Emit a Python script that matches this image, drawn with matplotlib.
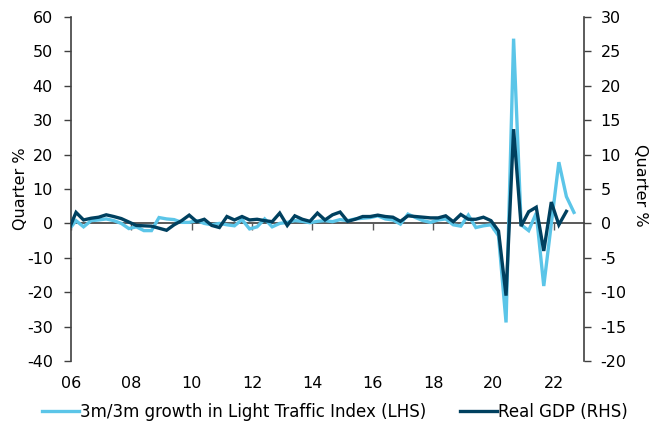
import matplotlib
matplotlib.use("Agg")
import matplotlib.pyplot as plt
import numpy as np

# Quarterly data, 2005Q4 .. 2022Q3 (2005Q4 partially clipped by axis)
start_year, start_q = 2005, 4
traffic = [-2.0, 0.8, -1.0, 0.8, 1.0, 1.3, 0.8, 0.0, -1.5, -1.0, -2.1, -2.1, 1.7, 1.3, 1.1,
           0.3, 0.3, 0.8, 0.0, -0.4, 0.0, -0.4, -0.7, 1.1, -1.6, -1.0, 1.3, -1.0, 0.0, 0.3,
           0.8, 0.6, 0.2, 0.6, 0.8, 0.5, 1.1, 0.8, 1.3, 1.5, 1.7, 2.2, 1.3, 1.0, -0.2, 2.7,
           1.7, 0.8, 0.3, 1.0, 1.3, -0.4, -0.8, 2.4, -1.2, -0.7, -0.4, -3.6, -28.8, 53.7,
           -0.4, -2.1, 3.0, -18.2, -0.1, 17.8, 7.8, 3.2]
gdp = [-1.0, 1.6, 0.5, 0.75, 0.9, 1.25, 1.0, 0.7, 0.2, -0.3, -0.35, -0.4, -0.7, -1.0, -0.2,
       0.4, 1.2, 0.25, 0.6, -0.3, -0.6, 1.0, 0.5, 1.0, 0.5, 0.6, 0.4, 0.25, 1.5, -0.3, 1.1,
       0.6, 0.3, 1.5, 0.5, 1.25, 1.65, 0.3, 0.6, 1.0, 1.0, 1.2, 1.0, 0.9, 0.3, 1.1, 1.0,
       0.9, 0.8, 0.8, 1.1, 0.25, 1.3, 0.6, 0.6, 0.9, 0.4, -1.1, -10.5, 13.7, -0.4, 1.7,
       2.35, -4.0, 3.1, -0.2, 1.75]

def qdates(n):
    out = []
    y, q = start_year, start_q
    for _ in range(n):
        out.append(y + (3 * q - 1) / 12.0)
        q += 1
        if q > 4:
            q = 1
            y += 1
    return np.array(out)

x_tr = qdates(len(traffic))
x_gdp = qdates(len(gdp))

xtick_years = [2006, 2008, 2010, 2012, 2014, 2016, 2018, 2020, 2022]
xtick_labels = ["06", "08", "10", "12", "14", "16", "18", "20", "22"]
left_ticks = list(range(-40, 61, 10))
right_ticks = list(range(-20, 31, 5))

light = "#5BC5E8"
dark = "#00405F"
spine_c = "#404040"

plt.rcParams['font.family'] = ['DejaVu Sans']
plt.rcParams['axes.unicode_minus'] = False
fig = plt.figure(figsize=(6.64, 4.28), dpi=100)
W, H = 664, 428
ax = fig.add_axes([71 / W, 1 - 361 / H, (584 - 71) / W, (361 - 17) / H])
ax2 = ax.twinx()

l1, = ax.plot(x_tr, traffic, color=light, lw=2.4, solid_joinstyle='miter', zorder=2)
l2, = ax2.plot(x_gdp, gdp, color=dark, lw=2.4, solid_joinstyle='miter', zorder=3)

ax.set_xlim(2006, 2023)
ax.set_ylim(-40, 60)
ax2.set_ylim(-20, 30)
ax.set_yticks(left_ticks)
ax2.set_yticks(right_ticks)

fs = 11.5
ax.tick_params(axis='y', direction='out', length=5, width=1, color=spine_c, labelsize=fs, pad=8)
ax2.tick_params(axis='y', direction='out', length=5, width=1, color=spine_c, labelsize=fs, pad=7)

# x axis placed at zero, labels at bottom of chart
ax.spines['bottom'].set_position(('data', 0))
ax.spines['bottom'].set_color('#595959')
ax.spines['bottom'].set_linewidth(1.4)
ax.spines['bottom'].set_zorder(1)
ax.set_xticks(xtick_years)
ax.set_xticklabels(xtick_labels)
ax.tick_params(axis='x', direction='out', length=5, width=1, color='#595959', labelsize=fs, pad=105)

for s in ['top']:
    ax.spines[s].set_visible(False)
    ax2.spines[s].set_visible(False)
ax2.spines['bottom'].set_visible(False)
ax.spines['right'].set_visible(False)
ax.spines['left'].set_color(spine_c)
ax2.spines['left'].set_visible(False)
ax2.spines['right'].set_color(spine_c)
ax.spines['left'].set_linewidth(1.2)
ax2.spines['right'].set_linewidth(1.2)

ax.set_ylabel("Quarter %", fontsize=fs, va='center')
ax.yaxis.set_label_coords((21 - 71) / 513, 0.5)
ax2.set_ylabel("Quarter %", fontsize=fs, rotation=270, va='center')
ax2.yaxis.set_label_coords((641 - 71) / 513, 0.51)

fig.legend([l1, l2], ["3m/3m growth in Light Traffic Index (LHS)", "Real GDP (RHS)"],
           loc='center', bbox_to_anchor=(335 / W, 1 - 412 / H), ncol=2, frameon=False,
           fontsize=12, handlelength=2.2, handletextpad=0.1, columnspacing=2.0)

fig.savefig("out.png", dpi=100)
